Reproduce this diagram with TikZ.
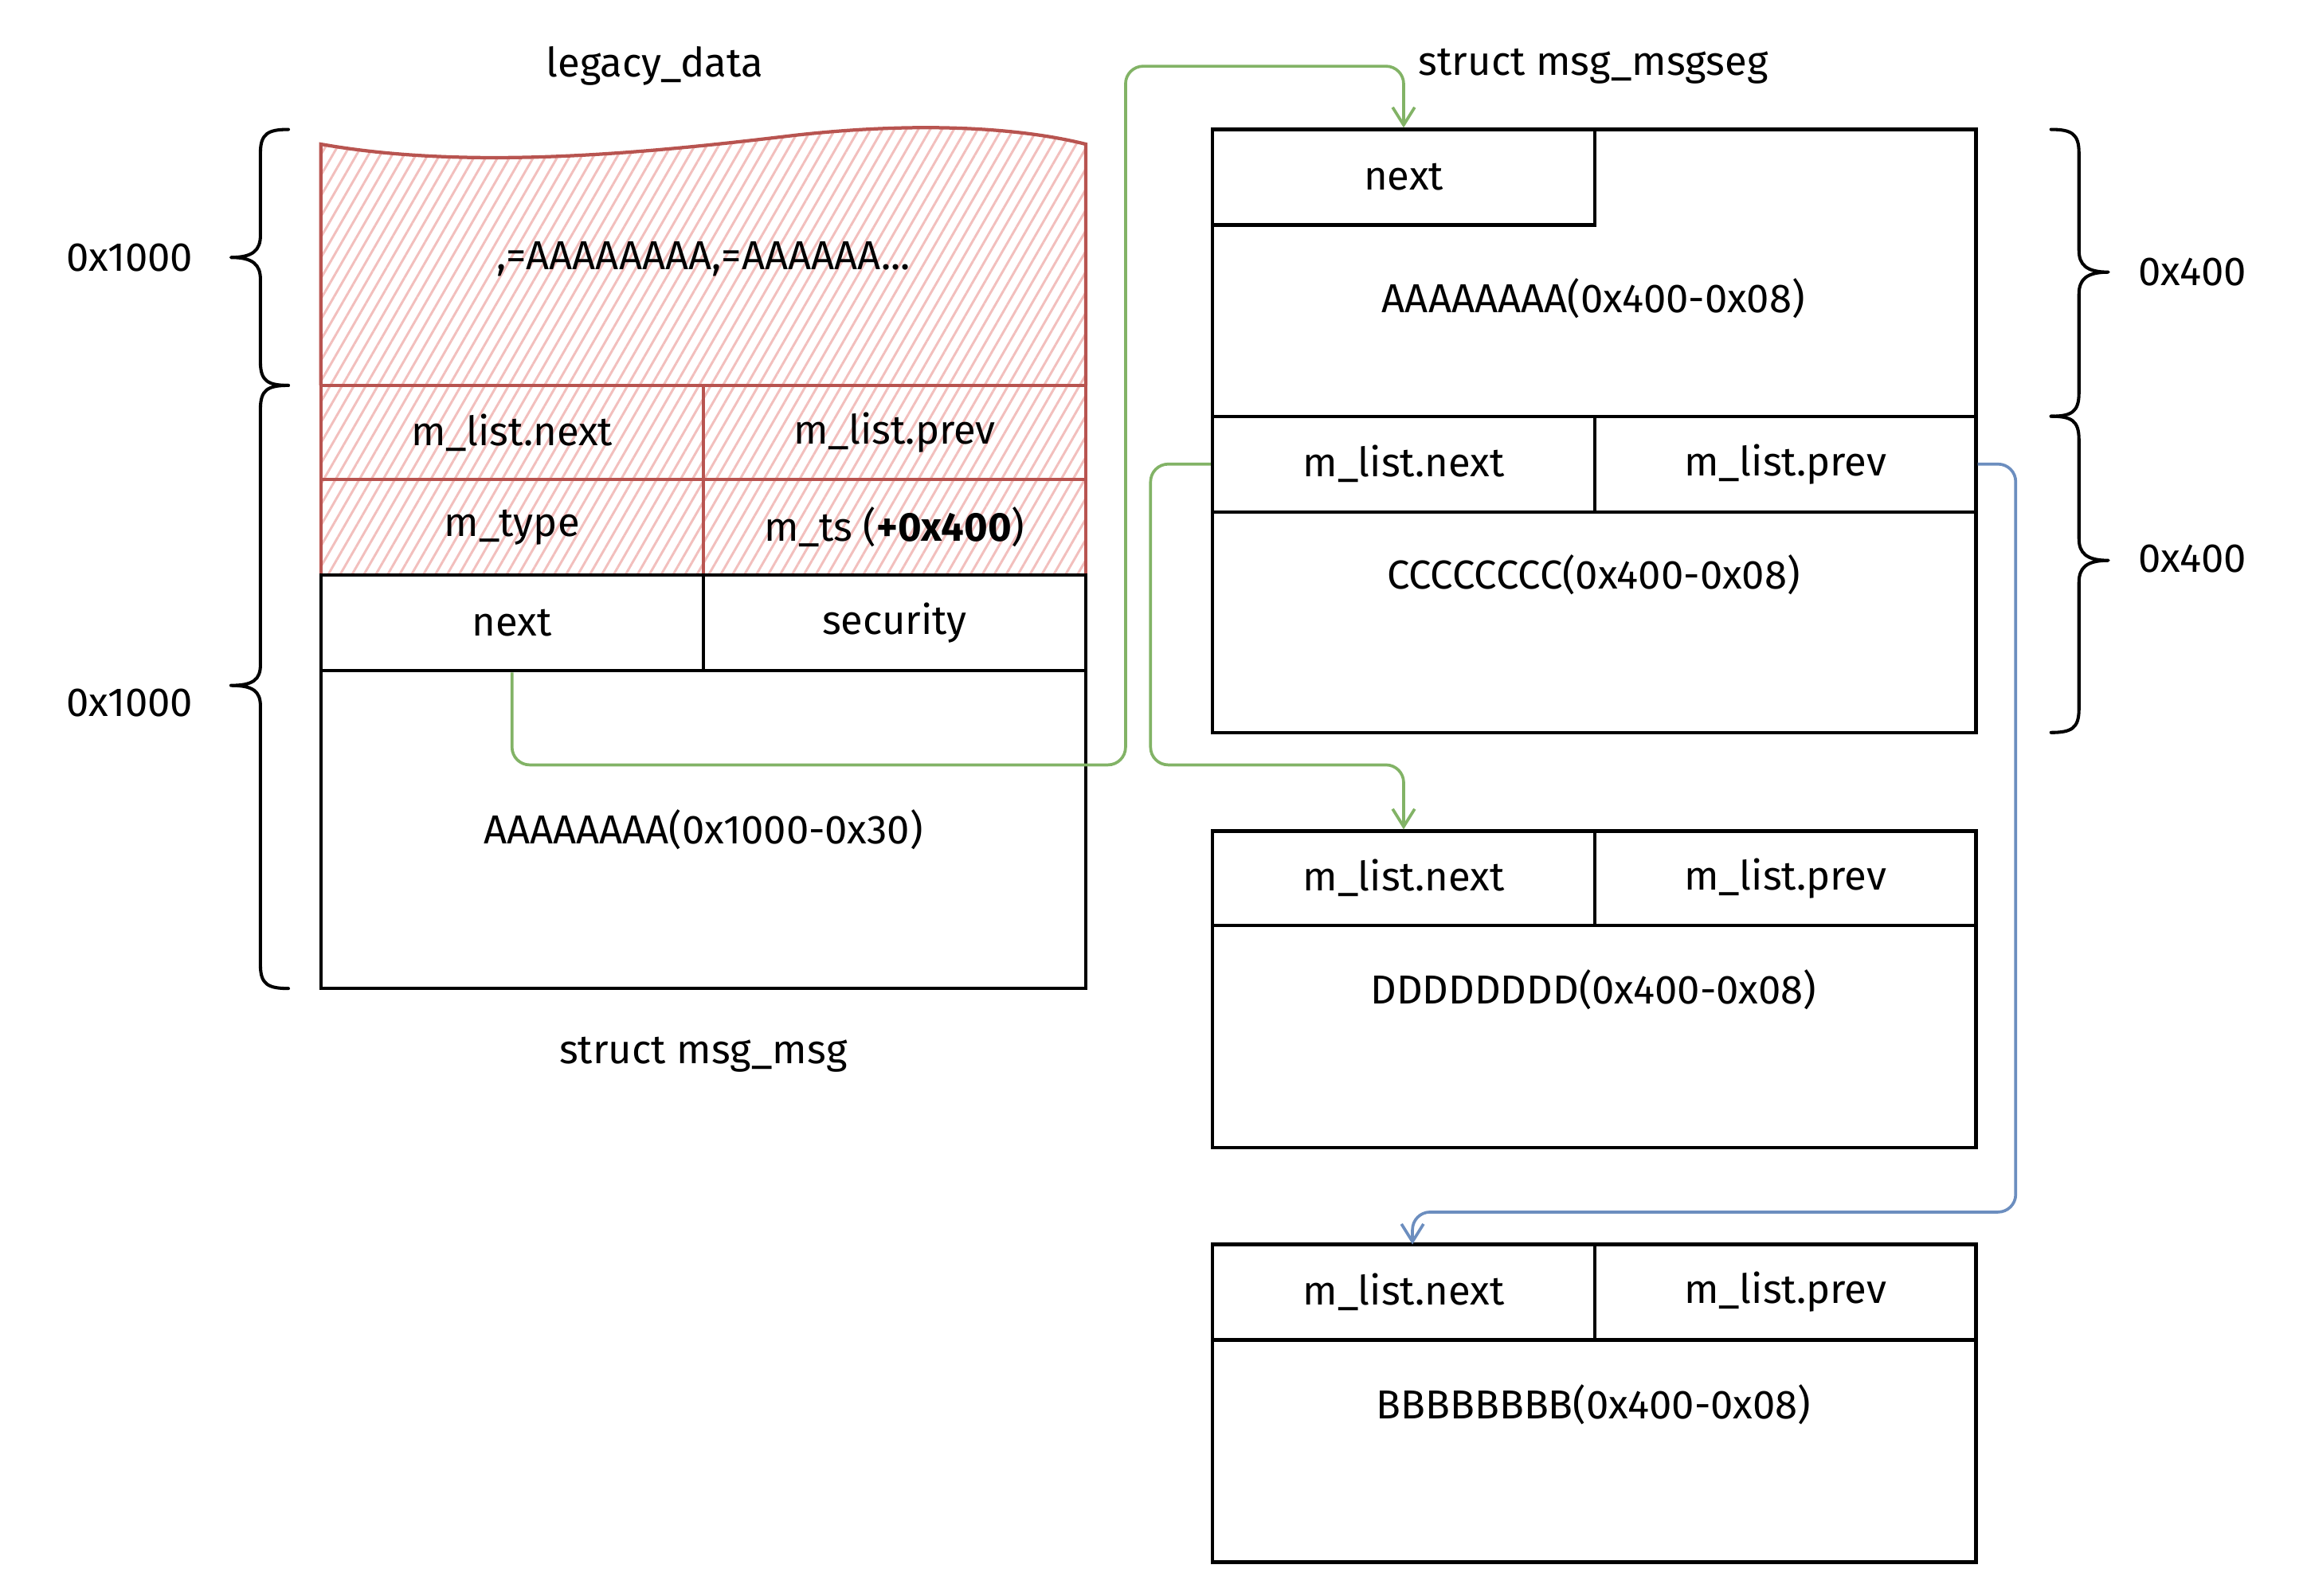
\documentclass[tikz,border=0pt]{standalone}
\usepackage{fontspec}
\setmainfont{Fira Sans}
\usetikzlibrary{arrows.meta,patterns.meta}
\definecolor{redline}{HTML}{B85450}
\definecolor{hatchc}{HTML}{F2BFBD}
\definecolor{gline}{HTML}{82B366}
\definecolor{bline}{HTML}{6C8EBF}
\begin{document}
\begin{tikzpicture}[x=1pt,y=-1pt,
  font=\fontsize{27.5}{32}\selectfont,
  cellbox/.style={draw=black,line width=2.3pt,inner sep=0pt,anchor=center},
  redcell/.style={draw=redline,line width=2.3pt,inner sep=0pt,anchor=center},
  lbl/.style={inner sep=0pt,anchor=center},
  gconn/.style={draw=gline,line width=2pt,rounded corners=12pt,-{Straight Barb[length=12pt,width=15pt,line width=2pt]}},
  bconn/.style={draw=bline,line width=2pt,rounded corners=12pt,-{Straight Barb[length=12pt,width=15pt,line width=2pt]}},
  bracel/.style={draw=black,line width=2.2pt,line cap=round,line join=round}
]
\useasboundingbox (0,0) rectangle (1568,1085);

% ---------- left structure ----------
\fill[pattern={Lines[angle=60,distance=7pt,line width=1.6pt]},pattern color=hatchc]
  (218,98) .. controls (320,116) and (440,104) .. (540,92) .. controls (620,83) and (690,86) .. (738,98)
  -- (738,391) -- (218,391) -- cycle;
\draw[redline,line width=2.3pt]
  (218,262) -- (218,98) .. controls (320,116) and (440,104) .. (540,92) .. controls (620,83) and (690,86) .. (738,98) -- (738,262);
\node[lbl] (ltop) at (478,176) {,=AAAAAAAA,=AAAAAA...};

\node[redcell,minimum width=260pt,minimum height=64pt] (lnext) at (348,294) {m\_list.next};
\node[redcell,minimum width=260pt,minimum height=64pt] (lprev) at (608,294) {m\_list.prev};
\node[redcell,minimum width=260pt,minimum height=65pt] (ltype) at (348,358.5) {m\_type};
\node[redcell,minimum width=260pt,minimum height=65pt] (lts) at (608,358.5) {m\_ts (\textbf{+0x400})};
\node[cellbox,minimum width=260pt,minimum height=65pt] (lnx) at (348,423.5) {next};
\node[cellbox,minimum width=260pt,minimum height=65pt] (lsec) at (608,423.5) {security};
\node[cellbox,minimum width=520pt,minimum height=216pt] (lbody) at (478,564) {AAAAAAAA(0x1000-0x30)};

\node[lbl] (legacy) at (445,45) {legacy\_data};
\node[lbl] (msgmsg) at (478,717) {struct msg\_msg};

% left braces (tip pointing left)
\draw[bracel] (196,88) .. controls (182,88) and (177,91) .. (177,104) -- (177,160)
  .. controls (177,170) and (172,175) .. (157,175) .. controls (172,175) and (177,180) .. (177,190)
  -- (177,246) .. controls (177,259) and (182,262) .. (196,262);
\draw[bracel] (196,262) .. controls (182,262) and (177,265) .. (177,278) -- (177,452)
  .. controls (177,462) and (172,466) .. (157,466) .. controls (172,466) and (177,470) .. (177,480)
  -- (177,656) .. controls (177,669) and (182,672) .. (196,672);
\node[lbl] (sz1) at (88,175) {0x1000};
\node[lbl] (sz2) at (88,478) {0x1000};

% ---------- right structures ----------
\node[lbl] (segt) at (1083,45) {struct msg\_msgseg};

\node[cellbox,minimum width=519pt,minimum height=410pt] (r1) at (1083.5,293) {};
\node[cellbox,minimum width=260pt,minimum height=65pt] (rnext) at (954,120.5) {next};
\node[lbl] (r1a) at (1083,203) {AAAAAAAA(0x400-0x08)};
\node[cellbox,minimum width=260pt,minimum height=65pt] (r1next) at (954,315.5) {m\_list.next};
\node[cellbox,minimum width=259pt,minimum height=65pt] (r1prev) at (1213.5,315.5) {m\_list.prev};
\node[lbl] (r1c) at (1083,391) {CCCCCCCC(0x400-0x08)};

\node[cellbox,minimum width=519pt,minimum height=215pt] (r2) at (1083.5,672.5) {};
\node[cellbox,minimum width=260pt,minimum height=64pt] (r2next) at (954,597) {m\_list.next};
\node[cellbox,minimum width=259pt,minimum height=64pt] (r2prev) at (1213.5,597) {m\_list.prev};
\node[lbl] (r2d) at (1083,673) {DDDDDDDD(0x400-0x08)};

\node[cellbox,minimum width=519pt,minimum height=216pt] (r3) at (1083.5,954) {};
\node[cellbox,minimum width=260pt,minimum height=65pt] (r3next) at (954,878.5) {m\_list.next};
\node[cellbox,minimum width=259pt,minimum height=65pt] (r3prev) at (1213.5,878.5) {m\_list.prev};
\node[lbl] (r3b) at (1083,955) {BBBBBBBB(0x400-0x08)};

% right braces (tip pointing right)
\draw[bracel] (1394,88) .. controls (1408,88) and (1413,91) .. (1413,104) -- (1413,170)
  .. controls (1413,180) and (1418,185) .. (1433,185) .. controls (1418,185) and (1413,190) .. (1413,200)
  -- (1413,267) .. controls (1413,280) and (1408,283) .. (1394,283);
\draw[bracel] (1394,283) .. controls (1408,283) and (1413,286) .. (1413,299) -- (1413,366)
  .. controls (1413,376) and (1418,381) .. (1433,381) .. controls (1418,381) and (1413,386) .. (1413,396)
  -- (1413,482) .. controls (1413,495) and (1408,498) .. (1394,498);
\node[lbl] (sz3) at (1490,185) {0x400};
\node[lbl] (sz4) at (1490,380) {0x400};

% ---------- connectors ----------
\coordinate (g1a) at (765,520);
\coordinate (g1b) at (765,45);
\coordinate (g2a) at (782,520);
\coordinate (b1) at (1370,824);
\coordinate (b3) at (960,846);

\draw[gconn] (lnx.south) |- (g1a) -- (g1b) -| (rnext.north);
\draw[gconn] (r1next.west) -| (g2a) -| (r2next.north);
\draw[bconn] (r1prev.east) -| (b1) -| (b3);
\end{tikzpicture}
\end{document}
